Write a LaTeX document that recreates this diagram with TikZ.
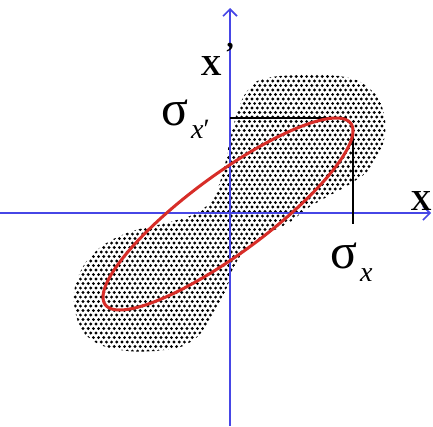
\documentclass[tikz,border=0pt]{standalone}
\usepackage{fontspec}
\setmainfont{Liberation Serif}
\usetikzlibrary{arrows.meta}
\definecolor{axisblue}{RGB}{70,70,230}
\definecolor{ellred}{RGB}{215,45,40}
\tikzset{
  axisline/.style={axisblue, line width=1.4pt, -{Straight Barb[length=7pt,width=14pt,line width=1.6pt]}},
  sigmaline/.style={black, line width=1.8pt},
  axislabel/.style={inner sep=0pt, anchor=base, font=\fontsize{29}{29}\selectfont\bfseries},
  sigmalabel/.style={inner sep=0pt, anchor=base west},
  dot/.style={fill=black}
}
\newcommand{\sigbig}{\fontsize{50}{50}\selectfont}
\newcommand{\sigsub}{\fontsize{28}{28}\selectfont\itshape}
\begin{document}
\begin{tikzpicture}[x=1pt,y=-1pt]
\useasboundingbox (0,0) rectangle (433,426);
% blob
\def\blob{plot[smooth cycle, tension=0.7] coordinates {
 (263,79) (300,75) (345,77) (370,89) (383,110) (384,140) (370,168) (350,184)
 (325,198) (305,210) (290,222) (265,235) (248,247) (235,265) (225,292) (210,320)
 (192,341) (165,350) (120,350) (88,337) (75,310) (77,280) (95,252) (127,233)
 (170,222) (198,212) (214,196) (224,168) (230,140) (238,110) (248,90)}}
\begin{scope}
\clip \blob;
\foreach \r in {0,...,66}{
  \pgfmathsetmacro\off{mod(\r,2)*2.6}
  \foreach \c in {0,...,62}{
    \fill[dot] (70+\c*5.2+\off, 72+\r*4.5) circle (1.6pt);
  }
}
\end{scope}
% axes
\coordinate (xs) at (0,213);
\coordinate (xe) at (431,213);
\coordinate (ys) at (230,426);
\coordinate (ye) at (230,8);
\draw[axisline] (xs) -- (xe);
\draw[axisline] (ys) -- (ye);
% sigma lines
\coordinate (h1) at (230,118);
\coordinate (h2) at (347,118);
\coordinate (v1) at (353,128);
\coordinate (v2) at (353,224);
\draw[sigmaline] (h1) -- (h2);
\draw[sigmaline] (v1) -- (v2);
% ellipse
\draw[ellred, line width=3pt] plot[domain=0:360, samples=120, smooth cycle, variable=\t]
  ({228+125*cos(\t)}, {214-96*cos(\t-30)});
% labels
\node[axislabel] (xlab) at (421,210) {X};
\node[axislabel] (xplab) at (211,75) {X};
\node[axislabel] (prime) at (230,62) {’};
\node[sigmalabel] (sxp) at (161,125) {{\sigbig σ}\hspace{3pt}\raisebox{-13pt}{\sigsub x{\upshape ′}}};
\node[sigmalabel] (sx) at (330,268) {{\sigbig σ}\hspace{3pt}\raisebox{-13pt}{\sigsub x}};
\end{tikzpicture}
\end{document}
